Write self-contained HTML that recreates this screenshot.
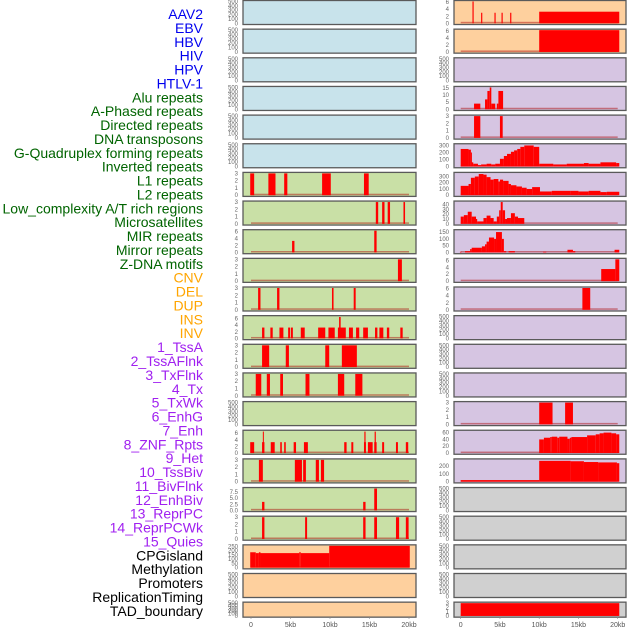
<!DOCTYPE html>
<html><head><meta charset="utf-8"><style>
html,body{margin:0;padding:0;background:#fff;}
svg{display:block;font-family:"Liberation Sans",sans-serif;}
</style></head><body>
<svg id="chart" width="630" height="630" viewBox="0 0 630 630" xmlns="http://www.w3.org/2000/svg"></svg>
<script>
const trackLabels = ["AAV2","EBV","HBV","HIV","HPV","HTLV-1","Alu repeats","A-Phased repeats","Directed repeats","DNA transposons","G-Quadruplex forming repeats","Inverted repeats","L1 repeats","L2 repeats","Low_complexity A/T rich regions","Microsatellites","MIR repeats","Mirror repeats","Z-DNA motifs","CNV","DEL","DUP","INS","INV","1_TssA","2_TssAFlnk","3_TxFlnk","4_Tx","5_TxWk","6_EnhG","7_Enh","8_ZNF_Rpts","9_Het","10_TssBiv","11_BivFlnk","12_EnhBiv","13_ReprPC","14_ReprPCWk","15_Quies","CPGisland","Methylation","Promoters","ReplicationTiming","TAD_boundary"];
const groupSizes = [6,13,5,15,5];
const trackMax = [500,500,500,500,500,500, 3,3,6.2,3,3,6.6,3,3,500,6.6,3,9,3, 255,500,500, 6.2,6.2, 500,15.5,3,310,350,45,160,6.3,6.2,500,500,500,3,64,277, 500,500,500,500,3];
const t500=[0,100,200,300,400,500], t3=[0,1,2,3], t6=[0,2,4,6];
const trackTicks = [t500,t500,t500,t500,t500,t500, t3,t3,t6,t3,t3,t6,t3,t3,t500,t6,t3,["0.0","2.5","5.0","7.5"],t3, [0,50,100,150,200,250],t500,t500, t6,t6, t500,[0,5,10,15],t3,[0,100,200,300],[0,100,200,300],[0,10,20,30,40],[0,50,100,150],t6,t6,t500,t500,t500,t3,[0,20,40,60],[0,100,200], t500,t500,t500,t500,t3];
const tickValues = [null,null,null,null,null,null, null,null,null,null,null,null,null,null,null,null,null,[0,2.5,5,7.5],null];
const xTickLabels = ["0","5kb","10kb","15kb","20kb"];
const xTickKb = [0,5,10,15,20];

const aluBars = [[-0.1,0.4,3],[2.2,3.1,3],[4.2,4.6,3],[9.0,10.1,3],[14.3,14.9,3]];
const aPhasedBars = [[15.8,16.1,3],[16.6,16.9,3],[17.3,17.6,3],[19.3,19.5,3]];
const directedBars = [[5.2,5.5,3.3],[15.6,15.9,6.2]];
const dnaTransBars = [[18.6,19.1,3]];
const gQuadBars = [[0.9,1.2,3],[3.3,3.6,3],[10.25,10.45,3],[13.0,13.25,3]];
const invertedBars = [[1.4,1.7,3.3],[2.45,2.75,3.3],[3.6,4.1,3.3],[4.7,4.95,3.3],[5.05,5.3,3.3],[6.3,6.8,3.3],[8.5,9.4,3.3],[9.8,10.6,3.3],[11.0,12.0,3.3],[11.15,11.35,6.5],[12.4,12.9,3.3],[13.3,13.7,3.3],[14.2,14.8,3.3],[15.7,16.0,3.3],[16.25,16.75,3.3],[17.2,17.5,3.3],[18.9,19.2,3.3]];
const l1Bars = [[1.4,2.3,3],[4.4,4.8,3],[9.4,9.9,3],[11.5,13.4,3]];
const l2Bars = [[0.6,1.3,3],[2.0,2.4,3],[3.7,4.05,3],[6.9,7.4,3],[11.0,11.8,3],[13.2,14.1,3]];
const microBars = [[-0.1,0.4,3.3],[1.4,1.7,3.3],[1.5,1.6,6.5],[2.5,3.0,3.3],[3.7,3.9,3.3],[4.2,4.4,3.3],[5.4,5.7,3.3],[6.7,7.2,3.3],[11.8,12.1,3.3],[12.7,12.95,3.3],[14.3,14.55,3.3],[14.35,14.5,6.5],[14.8,15.4,3.3],[15.6,15.9,3.3],[15.65,15.8,6.5],[16.6,16.85,3.3],[18.35,18.6,3.3],[19.6,19.9,3.3]];
const mirBars = [[1.0,1.5,3],[5.55,6.45,3],[6.6,6.95,3],[8.2,8.6,3],[8.85,9.25,3]];
const mirrorBars = [[1.4,1.7,3.5],[14.2,14.5,3.5],[15.6,15.95,9]];
const zdnaBars = [[1.4,1.7,3],[6.85,7.1,3],[14.2,14.5,3],[15.6,15.95,3],[18.35,18.75,3],[19.6,19.95,3]];
const cnvBars = [[-0.1,0.6,180],[0.6,1.0,170],[1.0,1.2,180],[1.2,6.1,170],[6.1,6.3,180],[6.3,9.9,170],[9.9,20.1,255]];
const insBars = [[1.5,1.65,6.2],[2.6,2.75,3],[4.3,4.45,3],[5.2,5.35,3],[6.3,6.45,3],[10.0,20.2,3.3]];
const invBars = [[10.0,20.2,6.2]];
const tssAFlnkBars = [[1.7,2.5,4],[3.1,3.4,7],[3.4,3.7,13],[3.7,3.9,15.5],[3.9,4.4,4],[4.6,4.8,4],[4.8,5.4,13]];
const txFlnkBars = [[1.7,2.5,3],[5.0,5.35,3]];
const txBars = [[0,1.0,250],[1.0,1.3,240],[1.3,1.4,200],[1.4,1.6,60],[1.6,2.2,40],[2.2,2.6,20],[2.6,3.3,30],[3.3,3.9,40],[3.9,4.4,30],[4.4,5.0,40],[5.0,5.5,110],[5.5,5.9,150],[5.9,6.4,180],[6.4,6.8,210],[6.8,7.2,230],[7.2,7.6,250],[7.6,8.1,280],[8.1,9.3,300],[9.3,10.0,280],[10.0,11.8,40],[11.8,13.5,30],[13.5,15.7,40],[15.7,16.3,50],[16.3,17.8,40],[17.8,19.8,60],[19.8,20.2,50]];
const txWkBars = [[0,1.0,150],[1.0,1.3,180],[1.3,1.8,280],[1.8,2.3,300],[2.3,2.9,340],[2.9,3.3,330],[3.3,3.8,290],[3.8,4.2,250],[4.2,4.8,260],[4.8,5.0,220],[5.0,5.4,250],[5.4,6.1,230],[6.1,6.4,180],[6.4,7.1,160],[7.1,7.8,140],[7.8,8.4,120],[8.4,9.1,100],[9.1,10.1,130],[10.1,11.6,60],[11.6,14.0,70],[14.0,15.0,70],[15.0,16.3,60],[16.3,17.8,70],[17.8,18.6,50],[18.6,20.2,55]];
const enhGBars = [[0,0.4,15],[0.4,0.9,18],[0.9,1.4,25],[1.4,1.95,15],[1.95,2.1,10],[2.1,2.9,5],[2.9,3.3,12],[3.3,3.8,17],[3.8,4.2,12],[4.2,4.6,5],[4.6,4.9,15],[4.9,5.1,28],[5.1,5.35,45],[5.35,5.65,28],[5.65,5.9,10],[5.9,6.4,12],[6.4,6.9,22],[6.9,7.3,15],[7.3,8.1,12]];
const enhBars = [[-0.1,0.1,5],[0.55,1.2,10],[1.2,1.4,25],[1.4,2.7,35],[2.7,3.1,45],[3.1,3.3,60],[3.3,3.6,80],[3.6,4.25,110],[4.25,4.5,100],[4.5,5.25,150],[5.25,5.5,100],[5.5,5.8,10],[6.1,6.9,10],[10.5,10.9,5],[13.6,14.3,20],[14.3,14.6,10],[19.6,20.2,20]];
const znfBars = [[17.9,19.7,3.5],[19.7,20.2,6.3]];
const hetBars = [[15.5,16.5,6.2]];
const reprPCBars = [[10.0,11.7,3],[13.3,14.3,3]];
const reprPCWkBars = [[10.0,10.6,40],[10.6,11.4,45],[11.4,11.6,47],[11.6,12.3,48],[12.3,12.55,45],[12.55,13.6,48],[13.6,13.9,42],[13.9,14.1,45],[14.1,16.1,47],[16.1,17.2,52],[17.2,17.7,55],[17.7,18.2,58],[18.2,19.2,60],[19.2,19.8,58],[19.8,20.2,55]];
const quiesBars = [[0,10.0,20],[10.0,14.0,265],[14.0,15.7,260],[15.7,17.5,250],[17.5,19.9,245],[19.9,20.2,235]];
const tadBars = [[0,20.2,3]];
const seriesByTrack = {6:aluBars,7:aPhasedBars,8:directedBars,9:dnaTransBars,10:gQuadBars,11:invertedBars,12:l1Bars,13:l2Bars,15:microBars,16:mirBars,17:mirrorBars,18:zdnaBars,19:cnvBars,22:insBars,23:invBars,25:tssAFlnkBars,26:txFlnkBars,27:txBars,28:txWkBars,29:enhGBars,30:enhBars,31:znfBars,32:hetBars,36:reprPCBars,37:reprPCWkBars,38:quiesBars,43:tadBars};

const NS="http://www.w3.org/2000/svg";
const svg=document.getElementById('chart');
function mk(tag,attrs,parent){const e=document.createElementNS(NS,tag);for(const k in attrs)e.setAttribute(k,attrs[k]);(parent||svg).appendChild(e);return e;}
const labelColors=["#0000ee","#006400","#ffa500","#a020f0","#000000"];
const bgColors=["#c8e3eb","#c9e0a6","#fed09e","#d6c5e2","#d0d0d0"];
function groupOf(i){let s=0;for(let g=0;g<groupSizes.length;g++){s+=groupSizes[g];if(i<s)return g;}return 4;}

// labels
trackLabels.forEach((lab,i)=>{
  const t=mk('text',{x:203,y:14+i*13.88+5,'text-anchor':'end','font-size':'14',fill:labelColors[groupOf(i)]});
  t.textContent=lab;
  
  
});

const cols=[{px:243,pw:173,x0:251,xs:7.9,tx:238},{px:454,pw:172,x0:460.7,xs:7.85,tx:449}];
for(let i=0;i<44;i++){
  const c=cols[i<22?0:1], row=i%22;
  const top=0.5+row*28.65, h=row===21?15:24;
  const g=mk('g',{});
  
  
  const bg=mk('rect',{x:c.px,y:top,width:c.pw,height:h,fill:bgColors[groupOf(i)],stroke:'#5a5a5a','stroke-width':1.3},g);
  
  
  const y0=top+h-1.2, yTop=top+1;
  const ymax=trackMax[i];
  const ys=v=>y0-(v/ymax)*(y0-yTop);
  const xs=kb=>c.x0+kb*c.xs;
  const ticks=trackTicks[i];
  const tv=(tickValues[i])||ticks.map(Number);
  ticks.forEach((tk,k)=>{
    const t=mk('text',{x:c.tx,y:ys(tv[k])+2,'text-anchor':'end','font-size':'6',fill:'#666'},g);
    t.textContent=tk;
    
    
  });
  const ser=seriesByTrack[i];
  if(ser){
    const base=mk('rect',{x:xs(0),y:y0-1.5,width:xs(20)-xs(0),height:1.5,fill:'rgba(170,0,0,0.45)'},g);
    
    
    ser.forEach(b=>{
      const yy=Math.max(yTop,ys(b[2]));
      const r=mk('rect',{x:xs(b[0]),y:yy,width:Math.max(1,xs(b[1])-xs(b[0])),height:y0-yy,fill:'#ff0000'},g);
      
      
    });
  }
}
// x axes
cols.forEach(c=>{
  xTickKb.forEach((kb,k)=>{
    const x=c.x0+kb*c.xs;
    mk('line',{x1:x,y1:617,x2:x,y2:619,stroke:'#888','stroke-width':0.6});
    const t=mk('text',{x:x,y:627,'text-anchor':'middle','font-size':'7',fill:'#555'});
    t.textContent=xTickLabels[k];
    
    
  });
});
</script>
</body></html>
